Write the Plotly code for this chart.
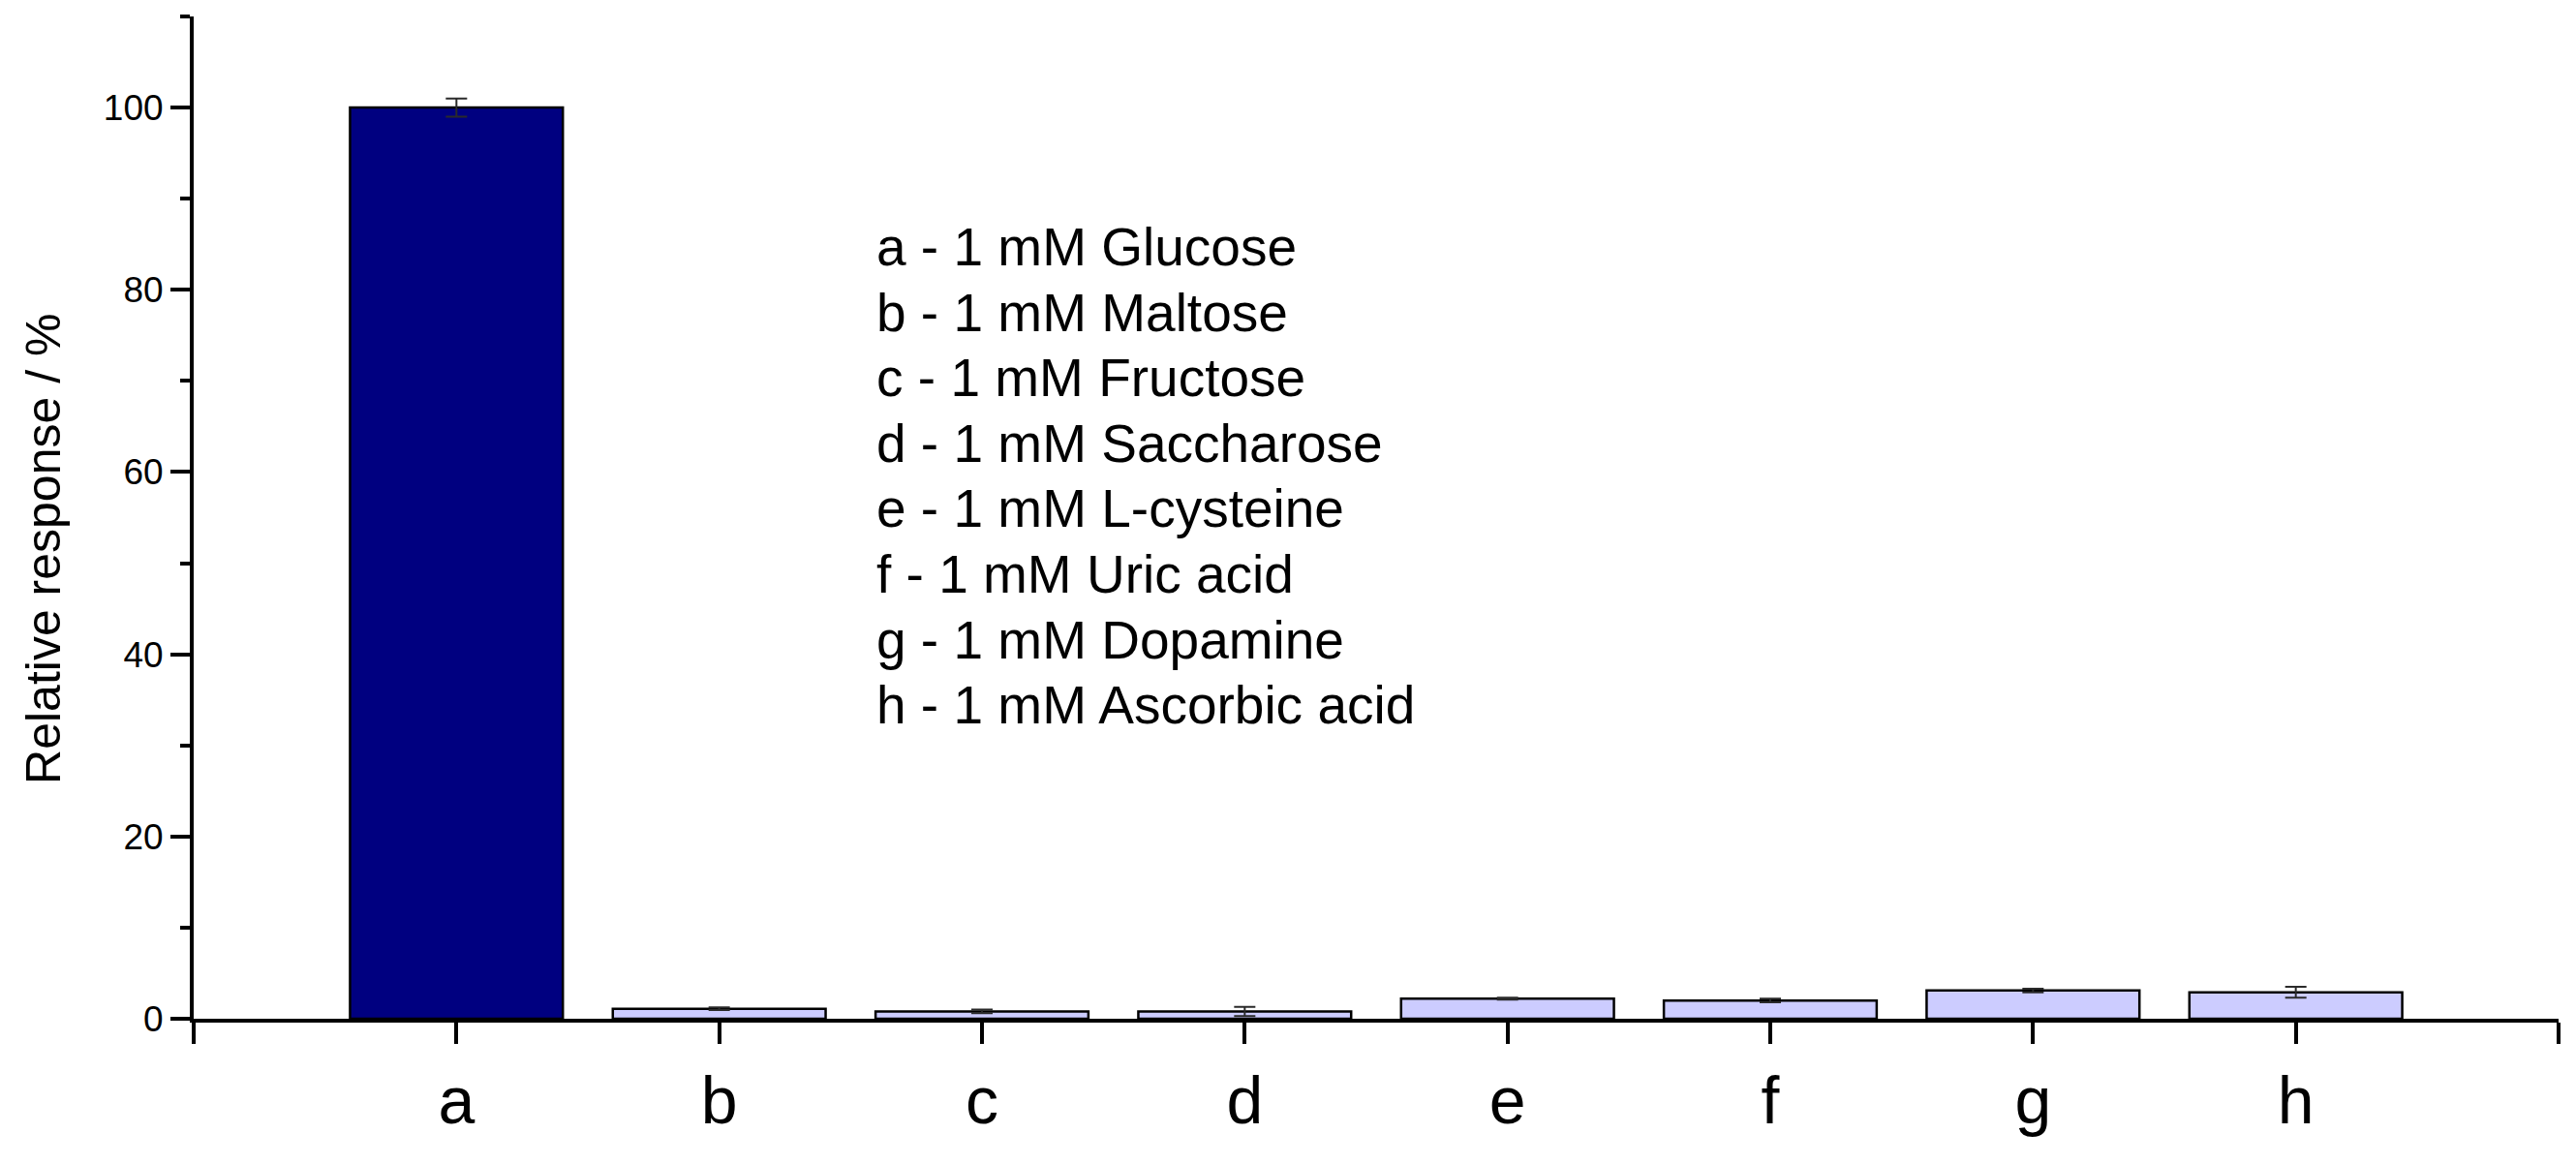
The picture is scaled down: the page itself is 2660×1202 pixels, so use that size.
import plotly.graph_objects as go

# ---- data ----
categories = ["a", "b", "c", "d", "e", "f", "g", "h"]
relative_response = [100.0, 1.1, 0.8, 0.8, 2.2, 2.0, 3.1, 2.9]
response_error = [1.0, 0.15, 0.2, 0.5, 0.1, 0.2, 0.2, 0.6]
legend_labels = [
    "a - 1 mM Glucose",
    "b - 1 mM Maltose",
    "c - 1 mM Fructose",
    "d - 1 mM Saccharose",
    "e - 1 mM L-cysteine",
    "f - 1 mM Uric acid",
    "g - 1 mM Dopamine",
    "h - 1 mM Ascorbic acid",
]
y_tick_values = [0, 20, 40, 60, 80, 100]
y_title = "Relative response / %"

# ---- style ----
FONT = "Liberation Sans, Arial, sans-serif"
main_color = "#000080"
other_color = "#CCCCFF"
bar_colors = [main_color] + [other_color] * (len(categories) - 1)

x_pos = list(range(len(categories)))
x_tickvals = list(range(-1, len(categories) + 1))
x_ticktext = [""] + categories + [""]

fig = go.Figure()
fig.add_trace(go.Bar(
    x=x_pos,
    y=relative_response,
    width=0.81,
    marker=dict(color=bar_colors, line=dict(color="black", width=2.5)),
    error_y=dict(type="data", array=response_error, visible=True,
                 color="#2a2a2a", thickness=2, width=11),
    showlegend=False,
))

# legend-like text block, one line per annotation
legend_x = 0.2879
legend_y0 = 0.7700
legend_step = 0.06531
for i, label in enumerate(legend_labels):
    fig.add_annotation(
        text=label,
        xref="paper", yref="paper",
        x=legend_x, y=legend_y0 - i * legend_step,
        xanchor="left", yanchor="middle",
        align="left", showarrow=False,
        font=dict(family=FONT, size=55, color="black"),
    )

fig.add_annotation(
    text=y_title,
    xref="paper", yref="paper",
    x=-0.0635, y=0.4686, xanchor="center", yanchor="middle",
    textangle=-90, showarrow=False,
    font=dict(family=FONT, size=50, color="black"),
)

fig.update_layout(
    width=2652, height=1194,
    margin=dict(l=192, r=18, t=9, b=150),
    paper_bgcolor="white", plot_bgcolor="white",
    font=dict(family=FONT, color="black"),
)

fig.update_xaxes(
    range=[-1, len(categories)],
    tickmode="array", tickvals=x_tickvals, ticktext=x_ticktext,
    showline=True, linecolor="black", linewidth=4,
    ticks="outside", ticklen=22, tickwidth=3.5, tickcolor="black",
    tickfont=dict(family=FONT, size=68, color="black"),
    showgrid=False, zeroline=False,
)

fig.update_yaxes(
    range=[0, 110],
    tickmode="array", tickvals=y_tick_values,
    showline=True, linecolor="black", linewidth=4,
    ticks="outside", ticklen=20, tickwidth=3.5, tickcolor="black",
    tickfont=dict(family=FONT, size=37, color="black"),
    minor=dict(ticks="outside", ticklen=10, tickwidth=3.5, tickcolor="black",
               tickvals=[10, 30, 50, 70, 90, 110], showgrid=False),
    showgrid=False, zeroline=False,
)

fig.write_html("out.html")
